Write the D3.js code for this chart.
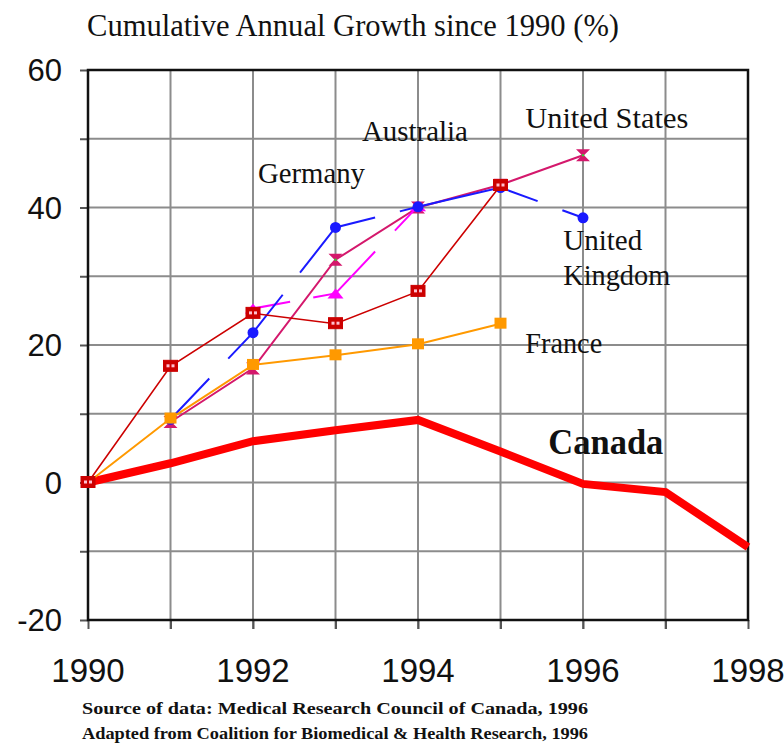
<!DOCTYPE html>
<html>
<head>
<meta charset="utf-8">
<script src="https://cdn.jsdelivr.net/npm/d3@7"></script>
<style>
  body { margin: 0; background: #fff; }
  svg { display: block; }
</style>
</head>
<body>
<div id="chart"></div>
<script>
// data (cumulative growth since 1990, %)
const years = [1990, 1991, 1992, 1993, 1994, 1995, 1996, 1997, 1998];
const canada = [0, 2.8, 6, 7.6, 9.1, 4.5, -0.2, -1.4, -9.4];
const germany = [0, 16.9, 24.6, 23.1, 27.8, 43.2, null, null, null];
const unitedKingdom = [null, 9.2, 21.8, 37.1, 40.1, 42.9, 38.5, null, null];
const unitedStates = [null, 8.8, 16.6, 32.4, 40, 43.3, 47.6, null, null];
const australia = [null, null, 25.3, 27.5, 40.2, null, null, null, null];
const france = [0, 9.3, 17.1, 18.5, 20.1, 23.1, null, null, null];

const yTicks = [60, 40, 20, 0, -20];
const xTicks = [1990, 1992, 1994, 1996, 1998];

const titleText = 'Cumulative Annual Growth since 1990 (%)';
const notes = [
    'Source of data: Medical Research Council of Canada, 1996',
    'Adapted from Coalition for Biomedical & Health Research, 1996'
];

const config = {
    width: 784,
    height: 746,
    margin: { top: 70, right: 36, bottom: 126, left: 88 }
};

const svg = d3.select('#chart')
    .append('svg')
    .attr('width', config.width)
    .attr('height', config.height);

const x = d3.scaleLinear()
    .domain([1990, 1998])
    .range([config.margin.left, config.width - config.margin.right]);
const y = d3.scaleLinear()
    .domain([-20, 60])
    .range([config.height - config.margin.bottom, config.margin.top]);

// grid
const grid = svg.append('g').attr('class', 'grid');
grid.selectAll('.gx')
    .data(d3.range(1991, 1998))
    .join('line')
    .attr('x1', d => x(d)).attr('x2', d => x(d))
    .attr('y1', y(60)).attr('y2', y(-20) + 9)
    .attr('stroke', '#8c8c8c').attr('stroke-width', 2);
grid.selectAll('.gy')
    .data(d3.range(-10, 60, 10))
    .join('line')
    .attr('x1', x(1990)).attr('x2', x(1998))
    .attr('y1', d => y(d)).attr('y2', d => y(d))
    .attr('stroke', '#8c8c8c').attr('stroke-width', 2);

// axes
const yAxis = svg.append('g')
    .attr('transform', `translate(${x(1990)},0)`)
    .call(d3.axisLeft(y).tickValues(d3.range(-20, 61, 10)).tickSize(8).tickFormat(''));
const xAxis = svg.append('g')
    .attr('transform', `translate(0,${y(-20)})`)
    .call(d3.axisBottom(x).tickValues(d3.range(1990, 1999)).tickSize(9).tickFormat(''));
[yAxis, xAxis].forEach(a => {
    a.select('.domain').remove();
    a.selectAll('.tick line').attr('stroke', '#555').attr('stroke-width', 2);
});

// frame
svg.append('rect')
    .attr('x', x(1990)).attr('y', y(60))
    .attr('width', x(1998) - x(1990)).attr('height', y(-20) - y(60))
    .attr('fill', 'none').attr('stroke', '#111').attr('stroke-width', 2.5);

// tick labels
svg.append('g').selectAll('text')
    .data(yTicks)
    .join('text')
    .attr('x', 62).attr('y', d => y(d) + 11)
    .attr('text-anchor', 'end')
    .style('font', '31px "Liberation Sans", Arial, sans-serif')
    .attr('fill', '#111')
    .text(d => d);
svg.append('g').selectAll('text')
    .data(xTicks)
    .join('text')
    .attr('x', d => x(d)).attr('y', 682)
    .attr('text-anchor', 'middle')
    .style('font', '33px "Liberation Sans", Arial, sans-serif')
    .attr('fill', '#111')
    .text(d => d);

// dashes with gaps at given years (the broken lines of the original)
function dashes(pts, gaps) {
    const lenAt = px => {
        let L = 0;
        for (let i = 1; i < pts.length; i++) {
            const p = pts[i - 1], q = pts[i];
            const seg = Math.hypot(q[0] - p[0], q[1] - p[1]);
            if (px <= q[0]) return L + seg * (px - p[0]) / (q[0] - p[0]);
            L += seg;
        }
        return L;
    };
    const arr = [];
    let prev = 0;
    gaps.forEach(([a, b]) => {
        const la = lenAt(x(a)), lb = lenAt(x(b));
        arr.push(la - prev, lb - la);
        prev = lb;
    });
    arr.push(5000);
    return arr.join(',');
}

const series = [
    { name: 'Canada', values: canada, color: '#ff0000', width: 8, marker: null },
    { name: 'United States', values: unitedStates, color: '#d4186c', width: 2, marker: 'hourglass' },
    { name: 'Australia', values: australia, color: '#ff00ff', width: 2, marker: 'triangle',
      gaps: [[1992.45, 1992.73], [1993.48, 1993.72]] },
    { name: 'United Kingdom', values: unitedKingdom, color: '#1a1aff', width: 2, marker: 'circle',
      gaps: [[1991.47, 1991.70], [1992.36, 1992.57], [1993.48, 1993.78], [1995.45, 1995.75]] },
    { name: 'France', values: france, color: '#ff9900', width: 2, marker: 'square' },
    { name: 'Germany', values: germany, color: '#cc0000', width: 1.6, marker: 'box' }
];

const line = d3.line()
    .defined(d => d[1] !== null)
    .x(d => x(d[0]))
    .y(d => y(d[1]));

const marks = svg.append('g').attr('class', 'series');
series.forEach(s => {
    const pts = years.map((yr, i) => [yr, s.values[i]]).filter(d => d[1] !== null);
    const g = marks.append('g');
    const path = g.append('path')
        .datum(pts)
        .attr('d', line)
        .attr('fill', 'none')
        .attr('stroke', s.color)
        .attr('stroke-width', s.width)
        .attr('stroke-linejoin', 'miter');
    if (s.gaps) {
        path.attr('stroke-dasharray', dashes(pts.map(d => [x(d[0]), y(d[1])]), s.gaps));
    }
    if (!s.marker) return;
    const m = g.selectAll('.m')
        .data(pts)
        .join('g')
        .attr('transform', d => `translate(${x(d[0])},${y(d[1])})`);
    if (s.marker === 'circle') {
        m.append('circle').attr('r', 5.5).attr('fill', s.color);
    } else if (s.marker === 'square') {
        m.append('rect').attr('x', -6).attr('y', -6).attr('width', 12).attr('height', 11).attr('fill', s.color);
    } else if (s.marker === 'box') {
        m.append('rect').attr('x', -7).attr('y', -6).attr('width', 14).attr('height', 11)
            .attr('fill', s.color).attr('stroke', s.color);
        m.append('rect').attr('x', -4).attr('y', -2).attr('width', 3).attr('height', 3).attr('fill', '#ffc0d0');
        m.append('rect').attr('x', 1).attr('y', -2).attr('width', 3).attr('height', 3).attr('fill', '#ffc0d0');
    } else if (s.marker === 'hourglass') {
        m.append('path').attr('d', 'M-7,-6H7L1,0L7,6H-7L-1,0Z').attr('fill', s.color);
        m.append('circle').attr('r', 1.2).attr('fill', '#33cc33');
    } else if (s.marker === 'triangle') {
        m.append('path').attr('d', 'M-8,5H8L0,-5Z').attr('fill', s.color);
    }
});

// series labels
const labels = [
    { text: 'Germany', year: 1992.06, value: 43.6, len: 107, size: 29, bold: false },
    { text: 'Australia', year: 1993.32, value: 49.7, len: 106, size: 29, bold: false },
    { text: 'United States', year: 1995.3, value: 51.6, len: 163, size: 29, bold: false },
    { text: 'United', year: 1995.76, value: 33.8, len: 79, size: 29, bold: false },
    { text: 'Kingdom', year: 1995.76, value: 28.8, len: 107, size: 29, bold: false },
    { text: 'France', year: 1995.3, value: 18.9, len: 77, size: 29, bold: false },
    { text: 'Canada', year: 1995.58, value: 4.2, len: 115, size: 35, bold: true }
];
svg.append('g').selectAll('text')
    .data(labels)
    .join('text')
    .attr('x', d => x(d.year)).attr('y', d => y(d.value))
    .attr('textLength', d => d.len)
    .attr('lengthAdjust', 'spacingAndGlyphs')
    .style('font-family', '"Liberation Serif", "Times New Roman", serif')
    .style('font-size', d => d.size + 'px')
    .style('font-weight', d => d.bold ? 'bold' : 'normal')
    .attr('fill', '#111')
    .text(d => d.text);

// title
svg.append('text')
    .attr('x', 87).attr('y', 36)
    .attr('textLength', 532)
    .attr('lengthAdjust', 'spacingAndGlyphs')
    .style('font', '32px "Liberation Serif", "Times New Roman", serif')
    .attr('fill', '#111')
    .text(titleText);

// notes
svg.append('g').selectAll('text')
    .data(notes)
    .join('text')
    .attr('x', 82).attr('y', (d, i) => 714 + i * 25)
    .attr('textLength', 506)
    .attr('lengthAdjust', 'spacingAndGlyphs')
    .style('font', 'bold 16px "Liberation Serif", "Times New Roman", serif')
    .attr('fill', '#111')
    .text(d => d);
</script>
</body>
</html>
